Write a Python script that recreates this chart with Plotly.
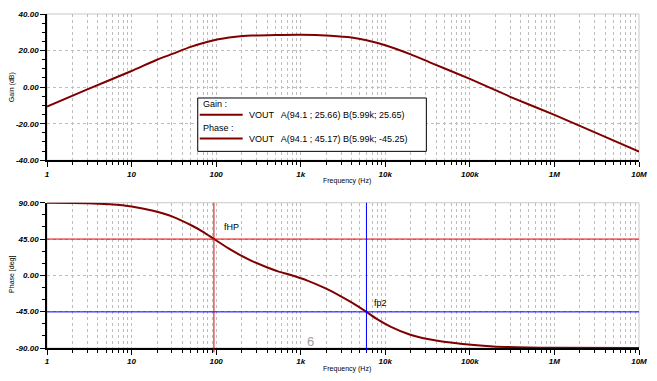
import plotly.graph_objects as go

# ---------------- data ----------------
gain_freq = [1, 3, 10, 20, 31, 50, 94.1, 170, 260, 500, 1000, 2250, 4000, 5990, 10000, 20000,
             33000, 100000, 200000, 300000, 1e6, 3.2e6, 1e7]
gain_db = [-10.6, -1.2, 8.8, 15.0, 18.3, 22.0, 25.66, 27.5, 28.2, 28.55, 28.7, 28.1, 27.1, 25.65,
           22.9, 17.9, 13.7, 4.5, -1.6, -5.3, -15.2, -25.3, -35.3]

phase_freq = [1, 2, 3, 5.5, 10, 18, 31, 52, 70, 94.1, 140, 190, 270, 390, 550, 730, 1200, 2000,
              2950, 3900, 5990, 8000, 11500, 19400, 33000, 82000, 188000, 1e6, 1e7]
phase_deg = [90, 89.8, 89.5, 88, 85.3, 80, 72.5, 61.5, 54, 45.17, 33.4, 25.5, 17.4, 10.4, 4.7,
             1.0, -6.5, -16.5, -25.6, -32.9, -45.25, -54.2, -63.4, -73.2, -79.2, -85.1, -88,
             -89.7, -90]

x_tickvals = [1, 10, 100, 1e3, 1e4, 1e5, 1e6, 1e7]
x_ticktext = ["1", "10", "100", "1k", "10k", "100k", "1M", "10M"]
gain_ticks = [40, 20, 0, -20, -40]
gain_ticktext = ["40.00", "20.00", "0.00", "-20.00", "-40.00"]
phase_ticks = [90, 45, 0, -45, -90]
phase_ticktext = ["90.00", "45.00", "0.00", "-45.00", "-90.00"]

cursor_freq = [94.1, 5990]
cursor_phase = [45, -45.25]
cursor_names = ["a", "b"]
cursor_colors = ["#e00000", "#0000ff"]
cursor_labels = ["fHP", "fp2"]

legend_lines = ["VOUT   A(94.1 ; 25.66) B(5.99k; 25.65)",
                "VOUT   A(94.1 ; 45.17) B(5.99k; -45.25)"]

# ---------------- figure ----------------
CURVE = "#800000"
GRID = "#bdbdbd"
GDASH = "3px,3px"
FONT = "Liberation Sans"

fig = go.Figure()
fig.add_trace(go.Scatter(x=gain_freq, y=gain_db, mode="lines", xaxis="x", yaxis="y",
                         line=dict(color=CURVE, width=2, shape="spline", smoothing=0.5),
                         showlegend=False, hoverinfo="skip"))
fig.add_trace(go.Scatter(x=phase_freq, y=phase_deg, mode="lines", xaxis="x2", yaxis="y2",
                         line=dict(color=CURVE, width=2, shape="spline", smoothing=0.5),
                         showlegend=False, hoverinfo="skip"))

top_dom = [0.5621, 1.0]
bot_dom = [0.0, 0.4349]

xcommon = dict(type="log", range=[0, 7], tickvals=x_tickvals, ticktext=x_ticktext,
               showgrid=True, gridcolor=GRID, griddash=GDASH, gridwidth=1,
               showline=True, linecolor="black", linewidth=1.5,
               ticks="outside", ticklen=5, tickcolor="black",
               tickfont=dict(family=FONT, size=8, color="black", style="italic", weight="bold"),
               minor=dict(dtick="D1", ticks="outside", ticklen=3, tickcolor="black",
                          showgrid=True, gridcolor=GRID, griddash=GDASH, gridwidth=1),
               zeroline=False, fixedrange=True)
ycommon = dict(showgrid=True, gridcolor=GRID, griddash=GDASH, gridwidth=1,
               showline=True, linecolor="black", linewidth=1.5,
               ticks="outside", ticklen=5, tickcolor="black",
               tickfont=dict(family=FONT, size=8, color="black", style="italic", weight="bold"),
               zeroline=False, fixedrange=True)

fig.update_layout(
    width=657, height=381,
    margin=dict(l=47, r=17, t=10, b=33),
    paper_bgcolor="white", plot_bgcolor="white",
    xaxis=dict(domain=[0, 1], anchor="y", **xcommon),
    xaxis2=dict(domain=[0, 1], anchor="y2", **xcommon),
    yaxis=dict(domain=top_dom, anchor="x", range=[-40, 40], tickvals=gain_ticks,
               ticktext=gain_ticktext,
               minor=dict(dtick=5, ticks="outside", ticklen=3, tickcolor="black", showgrid=False),
               **ycommon),
    yaxis2=dict(domain=bot_dom, anchor="x2", range=[-90, 90], tickvals=phase_ticks,
                ticktext=phase_ticktext,
                minor=dict(dtick=15, ticks="outside", ticklen=3, tickcolor="black", showgrid=False),
                **ycommon),
    showlegend=False,
)

shapes = []
for xr, yr in [("x domain", "y domain"), ("x2 domain", "y2 domain")]:
    shapes.append(dict(type="rect", xref=xr, yref=yr, x0=0, x1=1, y0=0, y1=1,
                       line=dict(color="#c8c8c8", width=1), layer="below"))

for f, p, c in zip(cursor_freq, cursor_phase, cursor_colors):
    shapes.append(dict(type="line", xref="x2", yref="y2 domain", x0=f, x1=f, y0=-0.03, y1=1.0,
                       line=dict(color=c, width=1)))
    shapes.append(dict(type="line", xref="x2 domain", yref="y2", x0=0, x1=1, y0=p, y1=p,
                       line=dict(color=c, width=1)))


def px(xp):
    return (xp - 47) / 593


def py(yp):
    return (348 - yp) / 338


shapes.append(dict(type="rect", xref="paper", yref="paper",
                   x0=px(198), x1=px(427), y0=py(149), y1=py(95),
                   line=dict(color="black", width=1), fillcolor="white", layer="above"))
for yy in [112, 136]:
    shapes.append(dict(type="line", xref="paper", yref="paper",
                       x0=px(200), x1=px(243), y0=py(yy), y1=py(yy),
                       line=dict(color=CURVE, width=2), layer="above"))
fig.update_layout(shapes=shapes)

ann = []
txtfont = dict(family=FONT, size=9, color="black")
ann.append(dict(text="Gain :", x=px(201), y=py(101), xref="paper", yref="paper",
                xanchor="left", yanchor="middle", showarrow=False, font=txtfont))
ann.append(dict(text="Phase :", x=px(201), y=py(125), xref="paper", yref="paper",
                xanchor="left", yanchor="middle", showarrow=False, font=txtfont))
for txt, yy in zip(legend_lines, [112, 136]):
    ann.append(dict(text=txt, x=px(247), y=py(yy), xref="paper", yref="paper",
                    xanchor="left", yanchor="middle", showarrow=False, font=txtfont))

small = dict(family=FONT, size=7, color="black")
ann.append(dict(text="Frequency (Hz)", x=px(348), y=py(179), xref="paper", yref="paper",
                xanchor="center", yanchor="middle", showarrow=False, font=small))
ann.append(dict(text="Frequency (Hz)", x=px(348), y=py(369), xref="paper", yref="paper",
                xanchor="center", yanchor="middle", showarrow=False, font=small))
ann.append(dict(text="Gain (dB)", x=px(12), y=py(84), xref="paper", yref="paper",
                xanchor="center", yanchor="middle", showarrow=False, textangle=-90, font=small))
ann.append(dict(text="Phase [deg]", x=px(12), y=py(274), xref="paper", yref="paper",
                xanchor="center", yanchor="middle", showarrow=False, textangle=-90, font=small))

for f, n, c in zip(cursor_freq, cursor_names, cursor_colors):
    ann.append(dict(text=n, x=f, y=1.0, xref="x2", yref="y2 domain", xanchor="center",
                    yanchor="bottom", showarrow=False, bordercolor=c, borderwidth=1,
                    borderpad=0, bgcolor="white", font=dict(family=FONT, size=7, color=c)))
lbl_pos = [(222, 226), (373, 302)]
for (xp, yp), t in zip(lbl_pos, cursor_labels):
    ann.append(dict(text=t, x=px(xp), y=py(yp), xref="paper", yref="paper",
                    xanchor="left", yanchor="middle", showarrow=False,
                    font=dict(family=FONT, size=9, color="black")))
ann.append(dict(text="6", x=px(311), y=py(341), xref="paper", yref="paper",
                xanchor="center", yanchor="middle", showarrow=False,
                font=dict(family=FONT, size=13, color="#a0a0a0")))
fig.update_layout(annotations=ann)

fig.write_html("out.html", config={"displayModeBar": False},
               post_script="document.body.style.margin='0';")
